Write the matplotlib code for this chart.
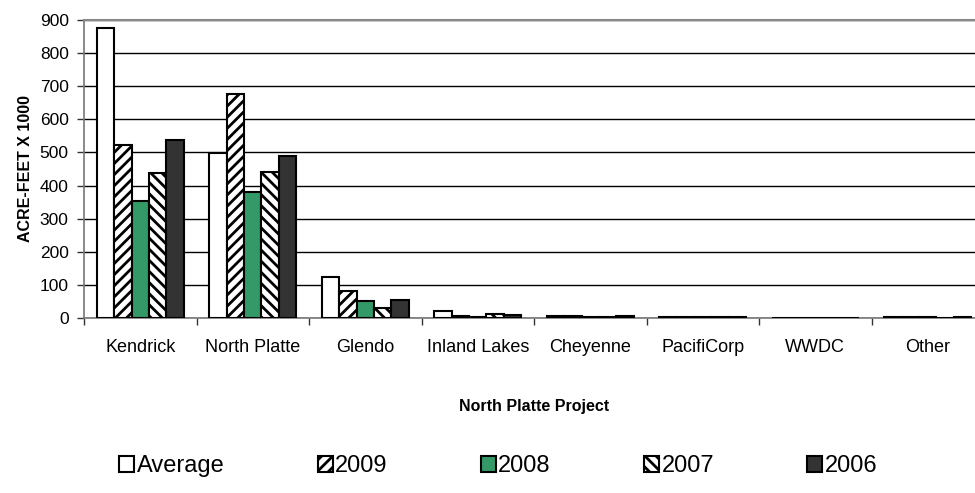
import numpy as np
import matplotlib
matplotlib.use("Agg")
import matplotlib.pyplot as plt

# === Data (acre-feet x 1000) ===
projects = ["Kendrick", "North Platte", "Glendo", "Inland Lakes",
            "Cheyenne", "PacifiCorp", "WWDC", "Other"]
average = [875, 497, 125, 21, 6, 2, 0, 4]
y2009 = [523, 677, 83, 6, 6, 2, 0, 2]
y2008 = [353, 380, 52, 3, 4, 2, 0, 3]
y2007 = [438, 442, 30, 13, 4, 2, 0, 1]
y2006 = [538, 488, 54, 10, 5, 2, 0, 2]

series_names = ["Average", "2009", "2008", "2007", "2006"]

plt.rcParams["font.family"] = ["Liberation Sans", "DejaVu Sans"]
plt.rcParams["hatch.linewidth"] = 2.0

fig = plt.figure(figsize=(9.75, 4.93), dpi=100)
ax = fig.add_axes([84 / 975, 175 / 493, 900 / 975, 298 / 493])

# bar styles: face, hatch
styles = [
    ("white", None),
    ("white", "///"),
    ("#339966", None),
    ("white", "\\\\\\"),
    ("#333333", None),
]
all_series = [average, y2009, y2008, y2007, y2006]

x = np.arange(len(projects))
bw = 0.154
for i, (vals, (fc, hatch), name) in enumerate(zip(all_series, styles, series_names)):
    ax.bar(x + (i - 2) * bw, vals, width=bw, facecolor=fc, edgecolor="black",
           hatch=hatch, linewidth=1.5, label=name, zorder=3)

ax.set_xlim(-0.5, len(projects) - 0.5)
ax.set_ylim(0, 900)
ax.set_yticks(np.arange(0, 1000, 100))
ax.yaxis.grid(True, color="black", linewidth=1.0, zorder=0)
ax.set_axisbelow(True)

# category ticks at boundaries, labels centred
ax.set_xticks(np.arange(-0.5, len(projects), 1.0))
ax.set_xticklabels([])
ax.set_xticks(x, minor=True)
ax.set_xticklabels(projects, minor=True, fontsize=13)
ax.tick_params(axis="x", which="minor", length=0, pad=15)
ax.tick_params(axis="x", which="major", length=5, width=1, color="#333333")
ax.tick_params(axis="y", labelsize=12.5, length=5, width=1, color="#333333", pad=6)

for s in ["top", "right"]:
    ax.spines[s].set_color("#888888")
    ax.spines[s].set_linewidth(1.5)
for s in ["left", "bottom"]:
    ax.spines[s].set_color("#777777")
    ax.spines[s].set_linewidth(1.2)

ax.set_ylabel("ACRE-FEET X 1000", fontsize=11.5, fontweight="bold", labelpad=5)
ax.set_xlabel("North Platte Project", fontsize=11.5, fontweight="bold", labelpad=31)

fig.legend(loc="center", bbox_to_anchor=(0.511, 0.054), ncol=5, frameon=False,
           fontsize=17, handlelength=0.64, handleheight=0.64, handletextpad=0.1,
           columnspacing=3.95)

plt.savefig("out.png", dpi=100)
